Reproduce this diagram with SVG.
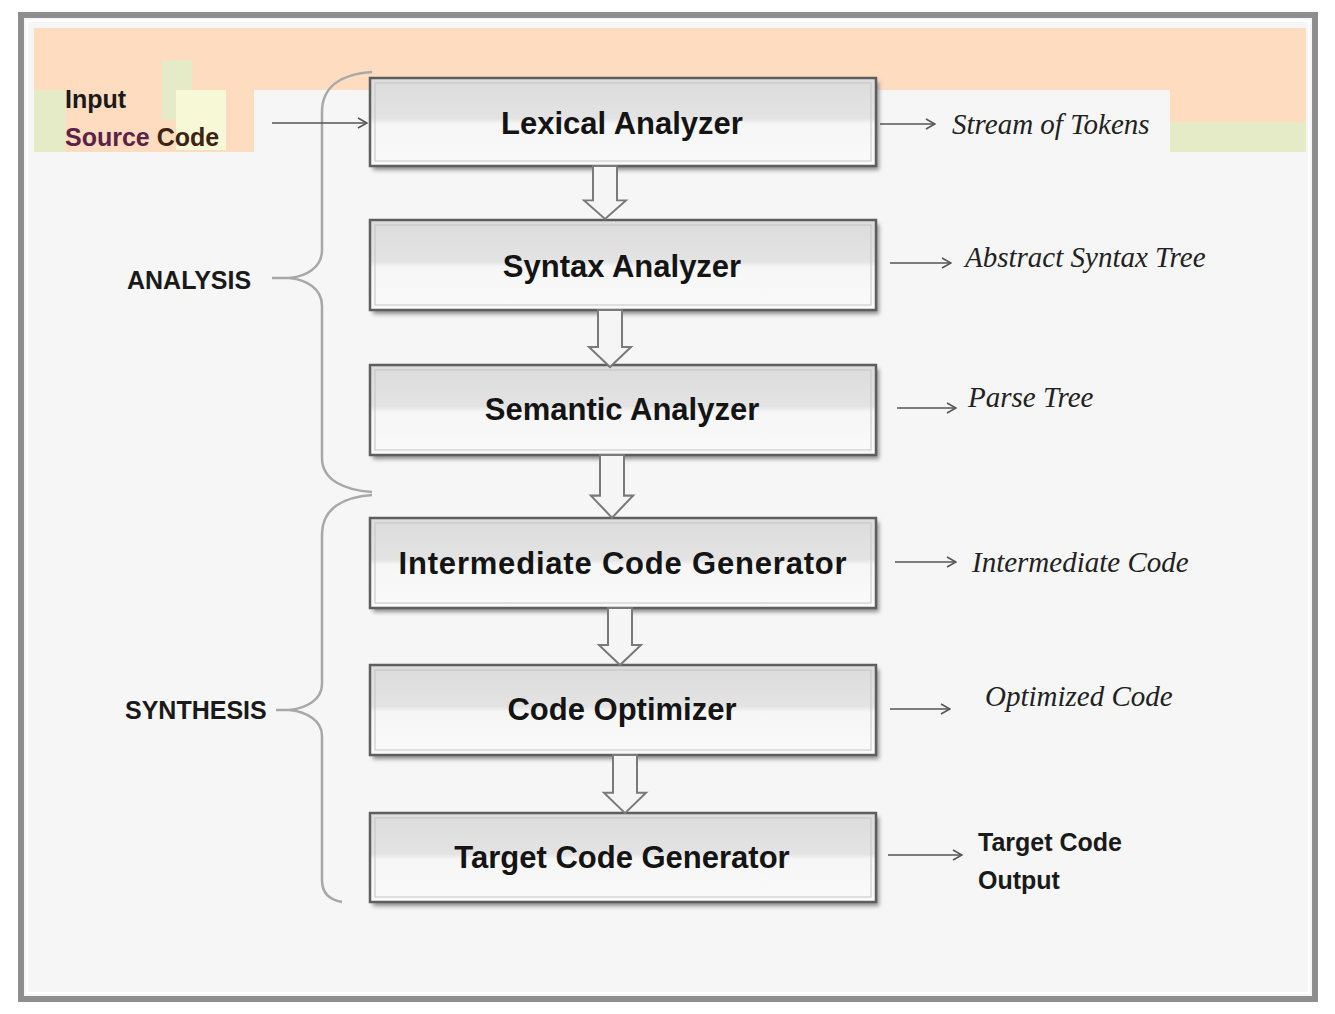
<svg xmlns="http://www.w3.org/2000/svg" width="1335" height="1014" viewBox="0 0 1335 1014">
  <defs>
    <style>
      .box { fill: url(#boxFill); stroke: #5e5e5e; stroke-width: 2.5; }
      .boxInner { fill: none; stroke: #c4c4c4; stroke-width: 1; }
      .shadow { fill: #8c8c8c; filter: url(#soft); }
      .node { font-family: "Liberation Sans", Arial, sans-serif; font-weight: bold; font-size: 31px; fill: #141414; text-anchor: middle; }
      .out { font-family: "Liberation Serif", "Times New Roman", serif; font-style: italic; font-size: 29px; fill: #222; }
      .side { font-family: "Liberation Sans", Arial, sans-serif; font-weight: bold; font-size: 25px; fill: #1a1a1a; }
      .flow { fill: #f5f5f5; stroke: #7a7a7a; stroke-width: 2; stroke-linejoin: miter; }
      .link { fill: none; stroke: #555; stroke-width: 1.6; marker-end: url(#chev); }
      .brace { fill: none; stroke: #a8a8a8; stroke-width: 2.5; }
    </style>
    <linearGradient id="boxFill" x1="0" y1="0" x2="0" y2="1">
      <stop offset="0" stop-color="#dcdcdc"/>
      <stop offset="0.46" stop-color="#e3e3e3"/>
      <stop offset="0.52" stop-color="#f6f6f6"/>
      <stop offset="1" stop-color="#fafafa"/>
    </linearGradient>
    <filter id="soft" x="-5%" y="-20%" width="110%" height="140%">
      <feGaussianBlur stdDeviation="2"/>
    </filter>
    <marker id="chev" viewBox="0 0 12 12" refX="11" refY="6" markerWidth="12" markerHeight="12" markerUnits="userSpaceOnUse" orient="auto">
      <path d="M2 1 L11 6 L2 11" fill="none" stroke="#555" stroke-width="1.6"/>
    </marker>
    <!-- hollow block arrow, 57 px tall, tip at (0,57) -->
    <path id="blockArrow" d="M-12 0 L12 0 L12 37 L21 37 L0 57 L-21 37 L-12 37 Z"/>
  </defs>

  <!-- page and frame -->
  <rect x="0" y="0" width="1335" height="1014" fill="#ffffff"/>
  <rect x="21" y="15" width="1294" height="984" fill="#f6f6f6" stroke="#8e8e8e" stroke-width="6"/>
  <rect x="27" y="21" width="1282" height="972" fill="none" stroke="#ffffff" stroke-width="2"/>

  <!-- coloured header band -->
  <rect x="34" y="28" width="1272" height="62" fill="#fddcc0"/>
  <rect x="34" y="90" width="220" height="62" fill="#fddcc0"/>
  <rect x="34" y="90" width="32" height="62" fill="#e4ebc6"/>
  <rect x="162" y="60" width="30" height="60" fill="#e4ebc6"/>
  <rect x="176" y="90" width="50" height="60" fill="#f6f8d6"/>
  <rect x="1170" y="90" width="136" height="32" fill="#fddcc0"/>
  <rect x="1170" y="122" width="136" height="30" fill="#e4ebc6"/>

  <!-- phase braces -->
  <g id="braces">
    <path class="brace" d="M372 72 C342 74 322 86 322 112 L322 250 C322 268 306 276 290 278 C306 280 322 288 322 306 L322 458 C322 480 344 490 372 492"/>
    <path class="brace" d="M372 495 C344 497 322 508 322 534 L322 684 C322 700 306 708 290 710 C306 712 322 720 322 736 L322 880 C322 894 330 900 342 902"/>
    <line x1="272" y1="278" x2="292" y2="278" stroke="#a8a8a8" stroke-width="2.5"/>
    <line x1="276" y1="710" x2="292" y2="710" stroke="#a8a8a8" stroke-width="2.5"/>
  </g>

  <!-- side labels -->
  <g id="input-label">
    <text class="side" x="65" y="108" font-size="28" fill="#3b2414">Input</text>
    <text class="side" x="65" y="146" font-size="28"><tspan fill="#5c2246">Source</tspan><tspan fill="#3b2414"> Code</tspan></text>
  </g>
  <g id="analysis-label"><text class="side" x="127" y="289" font-size="26">ANALYSIS</text></g>
  <g id="synthesis-label"><text class="side" x="125" y="719" font-size="26">SYNTHESIS</text></g>

  <!-- compiler phases -->
  <g id="lexical">
    <rect class="shadow" x="373" y="82" width="506" height="88"/>
    <rect class="box" x="370" y="78" width="506" height="88"/>
    <rect class="boxInner" x="375" y="83" width="496" height="78"/>
    <text class="node" x="622" y="134">Lexical Analyzer</text>
  </g>
  <g id="syntax">
    <rect class="shadow" x="373" y="224" width="506" height="90"/>
    <rect class="box" x="370" y="220" width="506" height="90"/>
    <rect class="boxInner" x="375" y="225" width="496" height="80"/>
    <text class="node" x="622" y="277">Syntax Analyzer</text>
  </g>
  <g id="semantic">
    <rect class="shadow" x="373" y="369" width="506" height="90"/>
    <rect class="box" x="370" y="365" width="506" height="90"/>
    <rect class="boxInner" x="375" y="370" width="496" height="80"/>
    <text class="node" x="622" y="420">Semantic Analyzer</text>
  </g>
  <g id="intermediate">
    <rect class="shadow" x="373" y="522" width="506" height="90"/>
    <rect class="box" x="370" y="518" width="506" height="90"/>
    <rect class="boxInner" x="375" y="523" width="496" height="80"/>
    <text class="node" x="623" y="574" letter-spacing="0.8">Intermediate Code Generator</text>
  </g>
  <g id="optimizer">
    <rect class="shadow" x="373" y="669" width="506" height="90"/>
    <rect class="box" x="370" y="665" width="506" height="90"/>
    <rect class="boxInner" x="375" y="670" width="496" height="80"/>
    <text class="node" x="622" y="720">Code Optimizer</text>
  </g>
  <g id="target">
    <rect class="shadow" x="373" y="817" width="506" height="89"/>
    <rect class="box" x="370" y="813" width="506" height="89"/>
    <rect class="boxInner" x="375" y="818" width="496" height="79"/>
    <text class="node" x="622" y="868">Target Code Generator</text>
  </g>

  <!-- phase outputs -->
  <g id="outputs">
    <text class="out" x="952" y="134">Stream of Tokens</text>
    <text class="out" x="965" y="267">Abstract Syntax Tree</text>
    <text class="out" x="968" y="407">Parse Tree</text>
    <text class="out" x="972" y="572">Intermediate Code</text>
    <text class="out" x="985" y="706">Optimized Code</text>
    <text class="side" x="978" y="851" font-size="26">Target Code</text>
    <text class="side" x="978" y="889" font-size="26">Output</text>
  </g>

  <!-- connectors -->
  <g id="connectors">
    <line class="link" x1="272" y1="123" x2="367" y2="123"/>
    <line class="link" x1="880" y1="124" x2="935" y2="124"/>
    <line class="link" x1="890" y1="263" x2="951" y2="263"/>
    <line class="link" x1="897" y1="408" x2="956" y2="408"/>
    <line class="link" x1="895" y1="562" x2="956" y2="562"/>
    <line class="link" x1="890" y1="709" x2="950" y2="709"/>
    <line class="link" x1="888" y1="855" x2="962" y2="855"/>
    <use href="#blockArrow" class="flow" transform="translate(605 166) scale(1 0.93)"/>
    <use href="#blockArrow" class="flow" transform="translate(610 310)"/>
    <use href="#blockArrow" class="flow" transform="translate(612 455) scale(1 1.1)"/>
    <use href="#blockArrow" class="flow" transform="translate(620 608)"/>
    <use href="#blockArrow" class="flow" transform="translate(625 755) scale(1 1.02)"/>
  </g>
</svg>
